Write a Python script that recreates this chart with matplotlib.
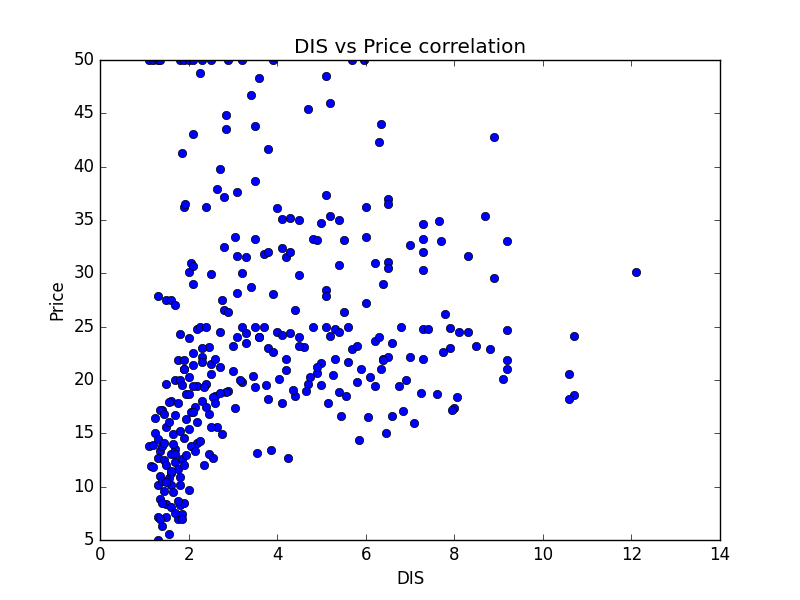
import matplotlib
matplotlib.use("Agg")
import matplotlib.pyplot as plt

# DIS vs Price

dis_top = [1.1, 1.2, 1.3, 1.35, 1.8, 1.9, 2.0, 2.1, 2.3, 2.5, 2.9, 3.2, 3.9, 5.7, 5.95,
           1.85, 2.1, 1.9, 1.92, 2.0, 2.05, 2.1, 2.1, 2.25, 2.4, 2.5, 2.65, 2.7, 2.8, 2.85,
           2.85, 2.8, 3.05, 3.1, 3.1, 3.1, 3.2, 3.3, 3.4, 3.5, 3.5, 3.5, 3.6, 3.7, 3.8,
           3.8, 4.0, 4.1, 4.1, 4.2, 4.3, 4.3, 4.5, 4.5, 4.7, 4.8, 4.9, 5.0, 5.1, 5.1,
           5.2, 5.2, 5.4, 5.5, 5.4, 5.1, 5.1, 6.0, 6.0, 6.2, 6.3, 6.35, 6.4, 6.5, 6.5,
           6.5, 6.5, 7.0, 7.3, 7.3, 7.3, 7.3, 7.65, 7.7, 8.3, 8.7, 8.9, 8.9, 9.2, 12.1]
price_top = [50, 50, 50, 50, 50, 50, 50, 50, 50, 50, 50, 50, 50, 50, 50,
             41.3, 43.1, 36.2, 36.5, 30.1, 31.0, 30.7, 29.0, 48.8, 36.2, 29.9, 37.9, 39.8, 37.2, 44.8,
             43.5, 32.5, 33.4, 37.6, 31.6, 28.2, 30.0, 31.5, 46.7, 43.8, 38.7, 33.2, 48.3, 31.8, 41.7,
             32.0, 36.1, 35.1, 32.4, 31.5, 35.2, 32.0, 35.0, 29.8, 45.4, 33.2, 33.1, 34.7, 48.5, 37.3,
             46.0, 35.4, 35.0, 33.1, 30.8, 28.4, 27.9, 33.4, 36.2, 31.0, 42.3, 44.0, 29.0, 37.0, 36.5,
             31.1, 30.5, 32.7, 34.6, 33.2, 32.0, 30.3, 34.9, 33.0, 31.6, 35.4, 42.8, 29.6, 33.0, 30.1]

dis_mid = [1.3, 1.5, 1.6, 1.7, 1.8, 1.75, 1.9, 2.0, 2.1, 2.2, 2.25, 2.3, 2.4, 2.45, 2.5,
           2.6, 2.7, 2.75, 2.8, 2.9, 3.0, 3.1, 3.2, 3.3, 3.4, 3.5, 3.6, 3.7, 3.8, 3.9,
           4.0, 4.1, 4.2, 4.3, 4.4, 4.5, 4.6, 4.8, 4.9, 5.0, 5.1, 5.2, 5.3, 5.4, 5.5,
           5.6, 5.7, 5.8, 5.9, 6.0, 6.2, 6.3, 6.4, 6.5, 6.6, 6.8, 7.0, 7.3, 7.4, 7.8,
           7.9, 8.1, 8.3, 8.8, 9.2, 9.2, 1.7, 1.9, 2.1, 2.3, 2.5, 2.7, 3.0, 3.3, 3.6,
           3.9, 4.2, 4.5, 4.9, 5.3, 5.6, 6.1, 6.4, 6.9, 7.3, 7.9, 8.5, 9.1, 10.6, 10.7,
           2.0, 2.2, 2.4, 2.6, 2.9, 3.2, 3.5, 3.8, 4.1, 4.4, 4.7, 5.0, 5.4, 5.8, 6.2,
           6.6, 7.1, 7.6, 8.0, 2.15, 2.35, 2.55, 2.85, 3.15, 3.45, 3.75, 4.05, 4.35, 4.65,
           5.25, 5.55, 6.35, 6.75, 7.25, 7.95, 9.2, 10.7, 1.95, 2.05, 2.45, 2.65, 3.05, 3.55,
           3.85, 4.25, 4.75, 5.15, 5.45, 5.85, 6.05, 6.45, 6.85, 7.75, 8.05, 10.6]
price_mid = [27.9, 27.5, 27.5, 27.0, 24.3, 21.9, 21.9, 23.9, 22.5, 24.8, 25.0, 22.2, 25.0, 23.1, 21.5,
             22.0, 24.5, 27.5, 26.6, 26.4, 23.2, 24.0, 25.0, 24.4, 28.7, 25.0, 24.0, 25.0, 23.0, 28.1,
             24.5, 24.2, 22.0, 24.4, 26.6, 24.0, 23.1, 25.0, 20.7, 21.6, 25.0, 24.1, 24.8, 24.5, 26.4,
             25.0, 22.9, 23.2, 21.0, 27.2, 23.7, 24.0, 22.0, 22.2, 23.5, 25.0, 22.2, 24.8, 24.8, 26.2,
             24.9, 24.5, 24.5, 22.9, 24.7, 21.9, 20.0, 21.0, 21.4, 23.0, 20.6, 21.2, 20.8, 23.5, 24.0,
             22.6, 20.9, 23.2, 21.2, 22.0, 21.7, 20.3, 21.9, 20.0, 22.0, 23.0, 23.2, 20.1, 20.6, 24.1,
             20.3, 19.4, 19.6, 18.5, 19.0, 19.8, 19.3, 18.2, 17.8, 18.5, 19.6, 19.5, 18.9, 19.8, 19.4,
             16.6, 16.0, 18.7, 17.4, 17.5, 19.3, 18.4, 18.9, 20.0, 20.4, 19.5, 20.1, 19.1, 19.0,
             20.5, 18.5, 21.0, 19.4, 18.8, 17.2, 21.0, 18.6, 18.7, 17.0, 16.8, 15.6, 17.4, 13.2,
             13.4, 12.7, 20.3, 17.8, 16.6, 14.4, 16.5, 15.0, 17.1, 22.6, 18.4, 18.2]

dis_low = [1.1, 1.15, 1.2, 1.25, 1.3, 1.3, 1.35, 1.4, 1.4, 1.45, 1.5, 1.5, 1.55, 1.6, 1.6,
           1.65, 1.7, 1.7, 1.75, 1.8, 1.8, 1.85, 1.9, 1.9, 1.95, 2.0, 2.0, 2.1, 2.1, 2.2,
           2.2, 2.3, 2.3, 2.4, 2.5, 2.6, 2.7, 1.2, 1.3, 1.35, 1.45, 1.5, 1.55, 1.6, 1.7,
           1.75, 1.8, 1.85, 1.9, 1.95, 2.05, 2.15, 2.25, 2.35, 2.45, 2.55, 2.75, 1.3, 1.35,
           1.4, 1.45, 1.5, 1.6, 1.65, 1.75, 1.8, 1.85, 1.9, 2.0, 1.3, 1.4, 1.5, 1.55, 1.6,
           1.7, 1.75, 1.8, 1.85, 1.35, 1.4, 1.5, 1.6, 1.7, 1.25, 1.35, 1.45, 1.55, 1.65]
price_low = [13.8, 11.9, 13.9, 15.0, 14.5, 10.2, 13.3, 13.8, 17.2, 14.1, 15.6, 19.6, 16.1, 13.1, 18.0,
             14.9, 16.7, 13.5, 17.8, 15.2, 20.0, 19.5, 14.6, 21.0, 16.3, 15.4, 18.7, 17.0, 19.4, 16.1,
             14.1, 18.0, 21.7, 17.5, 15.6, 17.8, 18.8, 11.8, 12.7, 11.0, 12.5, 12.0, 10.8, 11.3, 12.3,
             11.7, 10.2, 12.6, 12.0, 13.0, 13.8, 13.3, 14.3, 12.0, 13.1, 12.7, 14.9, 7.2, 8.8,
             10.5, 9.6, 8.4, 10.2, 9.5, 7.0, 8.3, 7.4, 8.5, 9.7, 5.0, 6.3, 7.2, 5.6, 8.1,
             7.5, 8.7, 10.9, 7.0, 7.0, 8.5, 10.4, 11.5, 13.1, 16.4, 17.2, 16.8, 17.9, 14.0]

dis = dis_top + dis_mid + dis_low
price = price_top + price_mid + price_low

plt.style.use('classic')
fig, ax = plt.subplots(figsize=(8, 6), dpi=100)
ax.plot(dis, price, 'o', color='blue', markeredgecolor='black', markersize=6)
ax.set_xlim(0, 14)
ax.set_ylim(5, 50)
ax.set_xlabel("DIS")
ax.set_ylabel("Price")
ax.set_title("DIS vs Price correlation")
fig.savefig("out.png", dpi=100)
